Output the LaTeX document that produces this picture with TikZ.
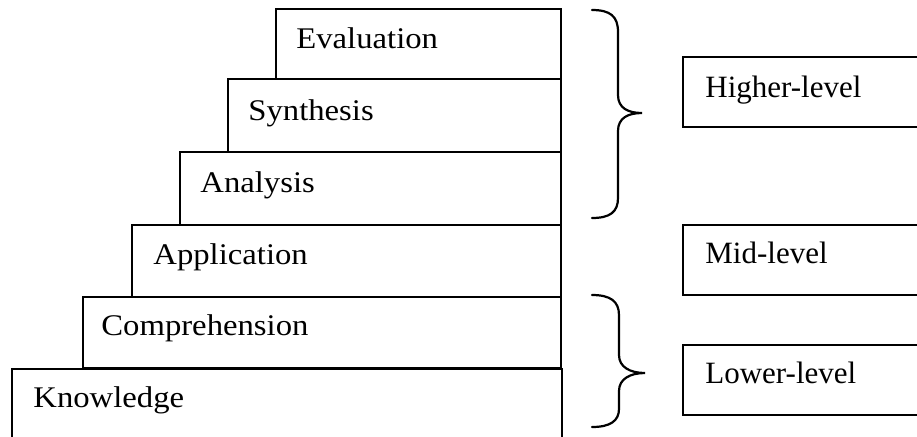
\documentclass[tikz,border=0pt]{standalone}
\usepackage{fontspec}
\setmainfont{Liberation Serif}
\newfontfamily\stepfont[FakeStretch=1.09]{Liberation Serif}
\begin{document}
\begin{tikzpicture}[x=0.5pt,y=-0.5pt,
  level/.style={draw=black,line width=1.4pt},
  sidebox/.style={draw=black,line width=1.1pt},
  steplbl/.style={anchor=base west,inner sep=0pt,font=\stepfont\fontsize{15}{18}\selectfont},
  sidelbl/.style={anchor=base west,inner sep=0pt,font=\fontsize{15.5}{18}\selectfont},
  bracepath/.style={draw=black,line width=1.1pt,line cap=round}]
\useasboundingbox (0,0) rectangle (917,436);
% staircase boxes
\draw[level] (12,369) rectangle (562,445);
\draw[level] (83,297) rectangle (561,368);
\draw[level] (132,225) rectangle (561,297);
\draw[level] (180,152) rectangle (561,225);
\draw[level] (228,79) rectangle (561,152);
\draw[level] (276,9) rectangle (561,79);
\node[steplbl] (eval) at (296,48) {Evaluation};
\node[steplbl] (synt) at (248,120) {Synthesis};
\node[steplbl] (anal) at (200,192) {Analysis};
\node[steplbl] (appl) at (153,264) {Application};
\node[steplbl] (comp) at (101,335) {Comprehension};
\node[steplbl] (know) at (33,407) {Knowledge};
% side boxes
\draw[sidebox] (683,57) rectangle (925,127);
\draw[sidebox] (683,225) rectangle (925,295);
\draw[sidebox] (683,345) rectangle (925,415);
\node[sidelbl] (high) at (705,97) {Higher-level};
\node[sidelbl] (mid) at (705,263) {Mid-level};
\node[sidelbl] (low) at (705,383) {Lower-level};
% braces
\draw[bracepath] (592,10) .. controls (610,10) and (618,16) .. (618,32)
  -- (618,95) .. controls (618,108) and (628,113) .. (642,113)
  .. controls (628,113) and (618,118) .. (618,131)
  -- (618,198) .. controls (618,212) and (610,218) .. (592,218);
\draw[bracepath] (592,295) .. controls (610,295) and (619,301) .. (619,315)
  -- (619,355) .. controls (619,367) and (630,373) .. (645,373)
  .. controls (630,373) and (619,379) .. (619,391)
  -- (619,409) .. controls (619,421) and (610,427) .. (592,427);
\end{tikzpicture}
\end{document}
